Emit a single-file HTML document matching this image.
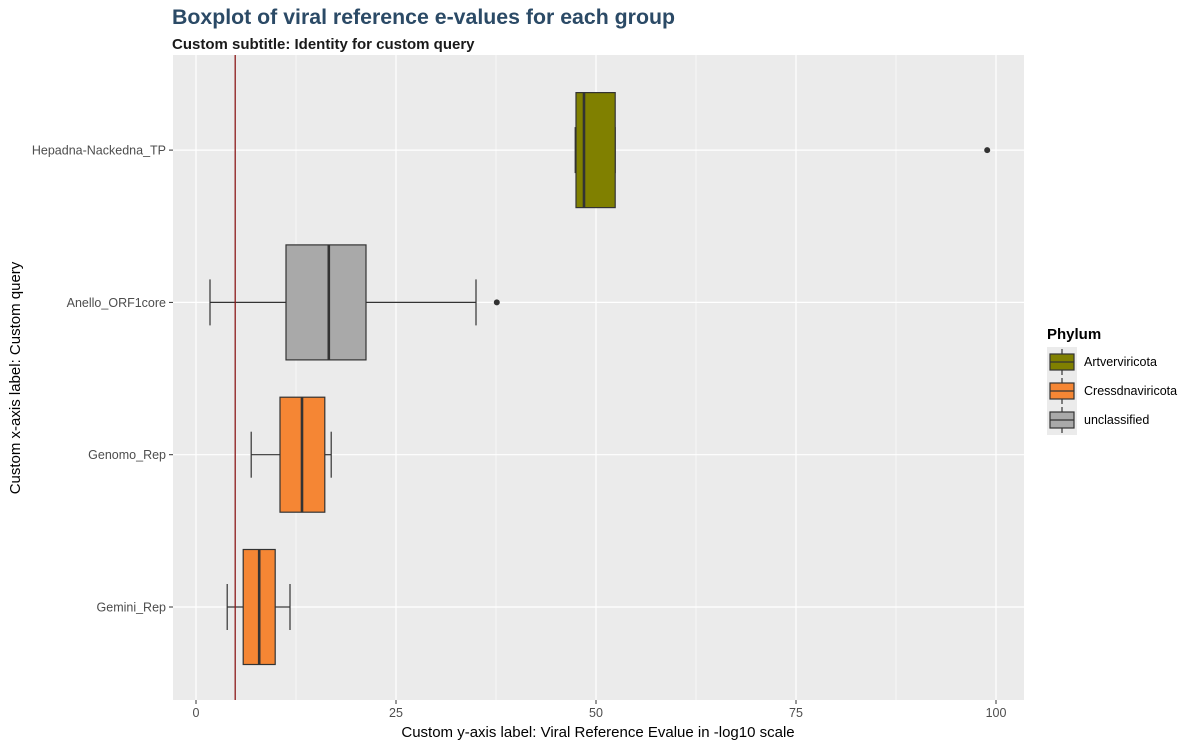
<!DOCTYPE html>
<html><head><meta charset="utf-8"><style>
body{margin:0;background:#fff;font-family:"Liberation Sans",Arial,sans-serif}
</style></head><body>
<svg width="1196" height="747" xmlns="http://www.w3.org/2000/svg" font-family="Liberation Sans, Arial, sans-serif">
<text x="172" y="24" font-size="21.3" font-weight="bold" fill="#2b4a66">Boxplot of viral reference e-values for each group</text>
<text x="172" y="49" font-size="15" font-weight="bold" fill="#1a1a1a">Custom subtitle: Identity for custom query</text>
<rect x="173" y="55" width="851" height="645" fill="#ebebeb"/>
<g id="grid"></g>
<g id="marks"></g>
<g id="axes"></g>
<text x="598" y="737" font-size="15" text-anchor="middle" fill="#000">Custom y-axis label: Viral Reference Evalue in -log10 scale</text>
<text transform="translate(20,378) rotate(-90)" font-size="15" text-anchor="middle" fill="#000">Custom x-axis label: Custom query</text>
<g>
<text x="1047" y="339" font-size="15" font-weight="bold">Phylum</text>
<g id="legend"></g>
</g>
</svg>
<script>
const categories=["Gemini_Rep","Genomo_Rep","Anello_ORF1core","Hepadna-Nackedna_TP"];
const phylum=["Cressdnaviricota","Cressdnaviricota","unclassified","Artverviricota"];
const lowerWhisker=[3.9,6.9,1.75,47.4];
const q1=[5.9,10.5,11.25,47.5];
const median=[7.9,13.25,16.6,48.5];
const q3=[9.9,16.1,21.25,52.4];
const upperWhisker=[11.75,16.9,35,52.4];
const outliers=[[],[],[37.6],[98.9]];
const xTicks=[0,25,50,75,100];
const refLine=4.9;
const legendLabels=["Artverviricota","Cressdnaviricota","unclassified"];
const colors={"Artverviricota":"#808000","Cressdnaviricota":"#f58634","unclassified":"#a9a9a9"};
const NS="http://www.w3.org/2000/svg";
const X=v=>196+v*8;
const Y=i=>607-i*152.3;
function mk(tag,attrs,parent){const e=document.createElementNS(NS,tag);for(const k in attrs)e.setAttribute(k,attrs[k]);document.getElementById(parent).appendChild(e);return e;}
for(let i=0;i<xTicks.length-1;i++){const m=(xTicks[i]+xTicks[i+1])/2;const g=mk('line',{x1:X(m),x2:X(m),y1:55,y2:700,stroke:'#fff','stroke-width':0.6},'grid');

}
xTicks.forEach(t=>{const g=mk('line',{x1:X(t),x2:X(t),y1:55,y2:700,stroke:'#fff','stroke-width':1.2},'grid');


const tk=mk('line',{x1:X(t),x2:X(t),y1:700,y2:704,stroke:'#333'},'axes');


const tx=mk('text',{x:X(t),y:717,'font-size':12.5,'text-anchor':'middle',fill:'#4d4d4d'},'axes');tx.textContent=t;

});
categories.forEach((c,i)=>{const y=Y(i);
const g=mk('line',{x1:173,x2:1024,y1:y,y2:y,stroke:'#fff','stroke-width':1.2},'grid');


const tk=mk('line',{x1:169,x2:173,y1:y,y2:y,stroke:'#333'},'axes');


const tx=mk('text',{x:166,y:y+4.5,'font-size':12.5,'text-anchor':'end',fill:'#4d4d4d'},'axes');tx.textContent=c;

});
categories.forEach((c,i)=>{const y=Y(i),h=57.5,cap=23;
const s={stroke:'#333','stroke-width':1.2};
[lowerWhisker[i],upperWhisker[i]].forEach(w=>{const e=mk('line',Object.assign({x1:X(w),x2:X(w),y1:y-cap,y2:y+cap},s),'marks');

});
const w1=mk('line',Object.assign({x1:X(lowerWhisker[i]),x2:X(q1[i]),y1:y,y2:y},s),'marks');


const w2=mk('line',Object.assign({x1:X(q3[i]),x2:X(upperWhisker[i]),y1:y,y2:y},s),'marks');


const b=mk('rect',{x:X(q1[i]),y:y-h,width:X(q3[i])-X(q1[i]),height:2*h,fill:colors[phylum[i]],stroke:'#333','stroke-width':1.2},'marks');


const m=mk('line',{x1:X(median[i]),x2:X(median[i]),y1:y-h,y2:y+h,stroke:'#333','stroke-width':2.6},'marks');


outliers[i].forEach(o=>{const p=mk('circle',{cx:X(o),cy:y,r:3,fill:'#333'},'marks');

});});
const v=mk('line',{x1:X(refLine),x2:X(refLine),y1:55,y2:700,stroke:'#8b1a1a','stroke-width':1.3},'marks');


const bg=mk('rect',{x:1047,y:347,width:30,height:88,fill:'#ebebeb'},'legend');


legendLabels.forEach((l,i)=>{const y0=348+i*29;
const wl=mk('line',{x1:1062,x2:1062,y1:y0+1,y2:y0+27,stroke:'#333','stroke-width':1.2},'legend');


const r=mk('rect',{x:1050,y:y0+6,width:24,height:16,fill:colors[l],stroke:'#333','stroke-width':1.2},'legend');


const ml=mk('line',{x1:1050,x2:1074,y1:y0+14,y2:y0+14,stroke:'#333','stroke-width':1.2},'legend');


const t=mk('text',{x:1084,y:y0+18,'font-size':12.5,fill:'#000'},'legend');t.textContent=l;

});
</script>
</body></html>
